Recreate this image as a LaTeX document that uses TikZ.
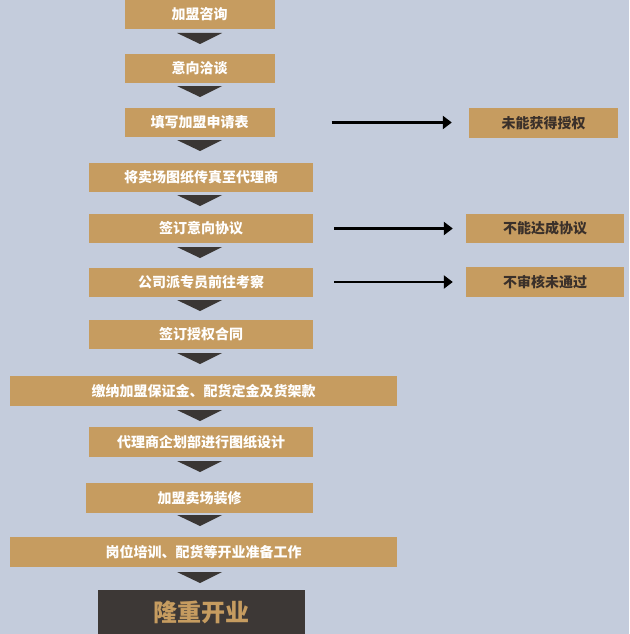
\documentclass[tikz,border=0pt]{standalone}
\usepackage{fontspec}
\newfontfamily\cjk{Noto Sans CJK SC}
\usetikzlibrary{arrows.meta}
\definecolor{bg}{HTML}{C4CCDC}
\definecolor{gold}{HTML}{C69C60}
\definecolor{darkbox}{HTML}{3D3836}
\definecolor{tricol}{HTML}{3A3634}
\definecolor{darktext}{HTML}{3A302A}
\begin{document}
\begin{tikzpicture}[x=1pt,y=-1pt,
  stepbox/.style={fill=gold,inner sep=0pt,font=\cjk\bfseries\fontsize{14}{16}\selectfont,text=white},
  sidebox/.style={fill=gold,inner sep=0pt,font=\cjk\bfseries\fontsize{14}{16}\selectfont,text=darktext},
  endbox/.style={fill=darkbox,inner sep=0pt,font=\cjk\bfseries\fontsize{24}{26}\selectfont,text=gold},
  tri/.style={fill=tricol},
  noarrow/.style={line width=2.2pt,-{Triangle[length=9pt,width=13pt]}}]
\useasboundingbox (0,0) rectangle (629,634);
\fill[bg] (0,0) rectangle (629,634);
% boxes
\node[stepbox,minimum width=150pt,minimum height=29pt] (b1) at (199.5,14.5) {加盟咨询};
\node[stepbox,minimum width=150pt,minimum height=29pt] (b2) at (199.5,68.5) {意向洽谈};
\node[stepbox,minimum width=150pt,minimum height=29pt] (b3) at (199.5,122.5) {填写加盟申请表};
\node[stepbox,minimum width=224pt,minimum height=29pt] (b4) at (201,177.5) {将卖场图纸传真至代理商};
\node[stepbox,minimum width=224pt,minimum height=29pt] (b5) at (201,228.5) {签订意向协议};
\node[stepbox,minimum width=224pt,minimum height=29pt] (b6) at (201,282) {公司派专员前往考察};
\node[stepbox,minimum width=224pt,minimum height=29pt] (b7) at (201,334.5) {签订授权合同};
\node[stepbox,minimum width=387pt,minimum height=30pt] (b8) at (203.5,391) {缴纳加盟保证金、配货定金及货架款};
\node[stepbox,minimum width=224pt,minimum height=30pt] (b9) at (201,442) {代理商企划部进行图纸设计};
\node[stepbox,minimum width=227pt,minimum height=30pt] (b10) at (199.5,498) {加盟卖场装修};
\node[stepbox,minimum width=387pt,minimum height=30pt] (b11) at (203.5,552) {岗位培训、配货等开业准备工作};
\node[endbox,minimum width=207pt,minimum height=45pt] (b12) at (201.5,612) {隆重开业};
% side boxes
\node[sidebox,minimum width=149pt,minimum height=30pt] (s1) at (543.5,123) {未能获得授权};
\node[sidebox,minimum width=158pt,minimum height=29pt] (s2) at (545,228.5) {不能达成协议};
\node[sidebox,minimum width=158pt,minimum height=30pt] (s3) at (545,282) {不审核未通过};
% chevrons between steps
\foreach \t in {33,86,140,195,247,300,353,410,461,515,572}{
  \fill[tri] (177,\t) -- (222,\t) .. controls (212,\t+5) .. (200,\t+11) .. controls (188,\t+5) .. (177,\t) -- cycle;
}
% side arrows
\draw[noarrow,shorten <=57pt,shorten >=17pt] (b3.east) -- (s1.west |- b3.east);
\draw[noarrow,shorten <=21pt,shorten >=13pt] (b5.east) -- (s2.west);
\draw[noarrow,shorten <=21pt,shorten >=13pt] (b6.east) -- (s3.west);
\end{tikzpicture}
\end{document}
